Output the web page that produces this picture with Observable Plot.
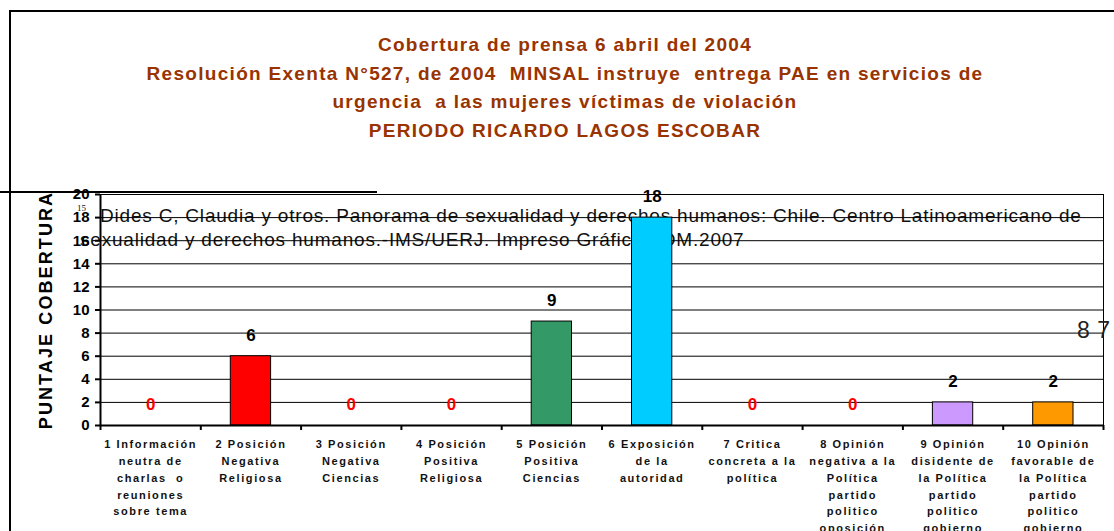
<!DOCTYPE html>
<html>
<head>
<meta charset="utf-8">
<script src="https://cdn.jsdelivr.net/npm/d3@7"></script>
<script src="https://cdn.jsdelivr.net/npm/@observablehq/plot@0.6"></script>
<style>
  html, body { margin: 0; padding: 0; background: #fff; }
  body { width: 1114px; height: 531px; overflow: hidden; position: relative; font-family: "Liberation Sans", Arial, sans-serif; }
  #frame { position: absolute; left: 9px; top: 10px; width: 1200px; height: 700px; border-top: 2px solid #000; border-left: 2px solid #000; }
  #title { position: absolute; left: 0; top: 31px; width: 1130px; text-align: center; color: #993300; font-weight: bold; font-size: 19px; letter-spacing: 1.3px; line-height: 28.7px; white-space: pre; }
  #stray { position: absolute; left: 0; top: 191px; width: 377px; height: 2px; background: #000; }
  #cite { position: absolute; top: 0; left: 0; font-size: 19px; letter-spacing: 0.8px; line-height: 24px; color: #111; white-space: nowrap; }
  #cite .l1 { position: absolute; left: 100px; top: 204px; }
  #cite .l2 { position: absolute; left: 80px; top: 228px; }
  #cite .sup { position: absolute; left: 77px; top: 204px; font-family: "Liberation Serif", serif; font-size: 9px; line-height: 9px; letter-spacing: 0; }
  #ylab { position: absolute; left: 46px; top: 310px; transform: translate(-50%, -50%) rotate(-90deg); font-size: 18px; font-weight: bold; letter-spacing: 2.1px; white-space: nowrap; color: #000; }
  #chart { position: absolute; left: 0; top: 0; }
  #num { position: absolute; left: 1077px; top: 315px; font-family: "Liberation Sans", Arial, sans-serif; font-weight: normal; font-size: 23px; line-height: 30px; letter-spacing: 0.5px; color: #222; white-space: nowrap; }
</style>
</head>
<body>
<div id="frame"></div>
<div id="title"></div>
<div id="stray"></div>
<div id="cite"></div>
<div id="ylab"></div>
<div id="chart"></div>
<div id="num">8 7</div>
<script>
const titleLines = [
  "Cobertura de prensa 6 abril del 2004",
  "Resolución Exenta N°527, de 2004  MINSAL instruye  entrega PAE en servicios de",
  "urgencia  a las mujeres víctimas de violación",
  "PERIODO RICARDO LAGOS ESCOBAR"
];
const citeSup = "15";
const citeLines = [
  "Dides C, Claudia y otros. Panorama de sexualidad y derechos humanos: Chile. Centro Latinoamericano de",
  "sexualidad y derechos humanos.-IMS/UERJ. Impreso Gráfica LOM.2007"
];
const yLabel = "PUNTAJE COBERTURA";
const categories = [
  "1 Información\nneutra de\ncharlas  o\nreuniones\nsobre tema",
  "2 Posición\nNegativa\nReligiosa",
  "3 Posición\nNegativa\nCiencias",
  "4 Posición\nPositiva\nReligiosa",
  "5 Posición\nPositiva\nCiencias",
  "6 Exposición\nde la\nautoridad",
  "7 Critica\nconcreta a la\npolítica",
  "8 Opinión\nnegativa a la\nPolítica\npartido\npolitico\noposición",
  "9 Opinión\ndisidente de\nla Política\npartido\npolitico\ngobierno",
  "10 Opinión\nfavorable de\nla Política\npartido\npolitico\ngobierno"
];
const values = [0, 6, 0, 0, 9, 18, 0, 0, 2, 2];
const barColors = ["#ffffff", "#ff0000", "#ffffff", "#ffffff", "#339966", "#00ccff", "#ffffff", "#ffffff", "#cc99ff", "#ff9900"];
const yTicks = [0, 2, 4, 6, 8, 10, 12, 14, 16, 18, 20];

document.getElementById("title").innerHTML = titleLines.map(t => `<div>${t}</div>`).join("");
document.getElementById("cite").innerHTML =
  `<span class="sup">${citeSup}</span><span class="l1">${citeLines[0]}</span><span class="l2">${citeLines[1]}</span>`;
document.getElementById("ylab").textContent = yLabel;

const rows = categories.map((c, i) => ({i, label: c, value: values[i], color: barColors[i]}));
const bounds = d3.range(categories.length + 1);

const chart = Plot.plot({
  width: 1114,
  height: 531,
  marginTop: 194,
  marginBottom: 106,
  marginLeft: 100,
  marginRight: 11,
  style: {background: "transparent", overflow: "visible", fontFamily: "Liberation Sans, Arial, sans-serif"},
  x: {domain: [0, categories.length], axis: null},
  y: {domain: [0, 20], axis: null},
  marks: [
    Plot.ruleY(yTicks, {stroke: "#000", strokeWidth: 1}),
    Plot.frame({stroke: "#000", strokeWidth: 1}),
    Plot.rectY(rows.filter(d => d.value > 0), {
      x1: "i", x2: d => d.i + 1, y1: 0, y2: "value",
      insetLeft: 30, insetRight: 30, fill: "color", stroke: "#000", strokeWidth: 1
    }),
    Plot.ruleX([0], {stroke: "#000", strokeWidth: 2}),
    Plot.ruleY([0], {stroke: "#000", strokeWidth: 2}),
    Plot.axisY({ticks: yTicks, tickSize: 5, tickPadding: 6, fontSize: 15, fontWeight: "bold", label: null, stroke: "#000", strokeWidth: 2, color: "#000"}),
    Plot.axisX({ticks: bounds, tickSize: 5, tickFormat: () => "", label: null, stroke: "#000", strokeWidth: 2}),
    Plot.text(rows, {
      x: d => d.i + 0.5, frameAnchor: "bottom", lineAnchor: "top", dy: 11,
      text: "label", fontSize: 11, fontWeight: "bold", lineHeight: 1.52, fill: "#111"
    }),
    Plot.text(rows, {
      x: d => d.i + 0.5, y: "value", dy: -21, text: d => String(d.value),
      fontSize: 17, fontWeight: "bold", fill: d => d.value === 0 ? "#ff0000" : "#000000"
    })
  ]
});
document.getElementById("chart").appendChild(chart);
d3.select(chart).selectAll('g[font-size="11"]').attr("letter-spacing", "1.6");
</script>
</body>
</html>
